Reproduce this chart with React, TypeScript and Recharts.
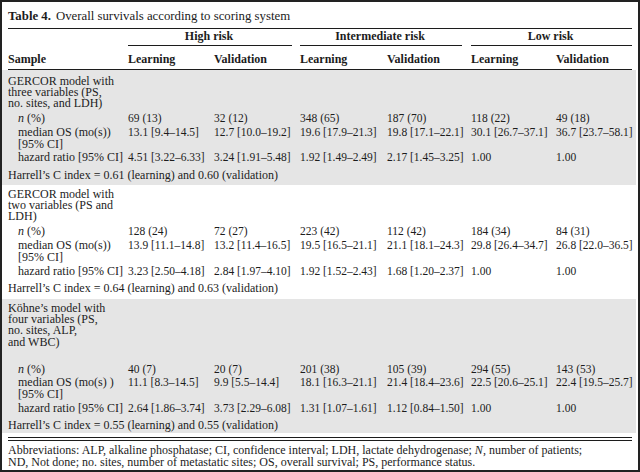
import { Surface, Layer } from "recharts";

const riskGroups = ["High risk", "Intermediate risk", "Low risk"];
const sampleTypes = ["Learning", "Validation"];

const model1Label = ["GERCOR model with", "three variables (PS,", "no. sites, and LDH)"];
const model1N = ["69 (13)", "32 (12)", "348 (65)", "187 (70)", "118 (22)", "49 (18)"];
const model1Os = ["13.1 [9.4–14.5]", "12.7 [10.0–19.2]", "19.6 [17.9–21.3]", "19.8 [17.1–22.1]", "30.1 [26.7–37.1]", "36.7 [23.7–58.1]"];
const model1Hr = ["4.51 [3.22–6.33]", "3.24 [1.91–5.48]", "1.92 [1.49–2.49]", "2.17 [1.45–3.25]", "1.00", "1.00"];
const model1C = "Harrell’s C index = 0.61 (learning) and 0.60 (validation)";

const model2Label = ["GERCOR model with", "two variables (PS and", "LDH)"];
const model2N = ["128 (24)", "72 (27)", "223 (42)", "112 (42)", "184 (34)", "84 (31)"];
const model2Os = ["13.9 [11.1–14.8]", "13.2 [11.4–16.5]", "19.5 [16.5–21.1]", "21.1 [18.1–24.3]", "29.8 [26.4–34.7]", "26.8 [22.0–36.5]"];
const model2Hr = ["3.23 [2.50–4.18]", "2.84 [1.97–4.10]", "1.92 [1.52–2.43]", "1.68 [1.20–2.37]", "1.00", "1.00"];
const model2C = "Harrell’s C index = 0.64 (learning) and 0.63 (validation)";

const model3Label = ["Köhne’s model with", "four variables (PS,", "no. sites, ALP,", "and WBC)"];
const model3N = ["40 (7)", "20 (7)", "201 (38)", "105 (39)", "294 (55)", "143 (53)"];
const model3Os = ["11.1 [8.3–14.5]", "9.9 [5.5–14.4]", "18.1 [16.3–21.1]", "21.4 [18.4–23.6]", "22.5 [20.6–25.1]", "22.4 [19.5–25.7]"];
const model3Hr = ["2.64 [1.86–3.74]", "3.73 [2.29–6.08]", "1.31 [1.07–1.61]", "1.12 [0.84–1.50]", "1.00", "1.00"];
const model3C = "Harrell’s C index = 0.55 (learning) and 0.55 (validation)";

const osLabel = ["median OS (mo(s))", "[95% CI]"];
const osLabel3 = ["median OS (mo(s) )", "[95% CI]"];
const hrLabel = "hazard ratio [95% CI]";

const W = 640;
const H = 472;
const FONT = "'Liberation Serif', 'Times New Roman', serif";
const INK = "#1c1c1c";
const GRAY = "#e5e5e5";
const CELL_FONT = 11.5;
const colX = [128, 214, 300, 387, 471, 556];
const groupSpan = [
  [128, 292],
  [300, 462],
  [471, 632],
];

interface BlockProps {
  top: number;
  bottom: number;
  shaded: boolean;
  label: string[];
  labelY: number;
  nRow: string[];
  osRow: string[];
  osText: string[];
  hrRow: string[];
  cText: string;
  nY: number;
  osY: number;
  hrY: number;
  cY: number;
}

function Block(p: BlockProps) {
  return (
    <Layer>
      {p.shaded && <rect x={2} y={p.top} width={634} height={p.bottom - p.top} fill={GRAY} />}
      {p.label.map((l, i) => (
        <text key={l} x={8} y={p.labelY + i * 11.2}>{l}</text>
      ))}
      <text x={18} y={p.nY}>
        <tspan fontStyle="italic">n</tspan> (%)
      </text>
      <text x={18} y={p.osY}>{p.osText[0]}</text>
      <text x={18} y={p.osY + 11.5}>{p.osText[1]}</text>
      <text x={18} y={p.hrY}>{hrLabel}</text>
      <text x={8} y={p.cY}>{p.cText}</text>
      <Layer fontSize={CELL_FONT}>
        {p.nRow.map((v, i) => (
          <text key={"n" + i} x={colX[i]} y={p.nY}>{v}</text>
        ))}
        {p.osRow.map((v, i) => (
          <text key={"o" + i} x={colX[i]} y={p.osY}>{v}</text>
        ))}
        {p.hrRow.map((v, i) => (
          <text key={"h" + i} x={colX[i]} y={p.hrY}>{v}</text>
        ))}
      </Layer>
    </Layer>
  );
}

export default function App() {
  return (
    <div style={{ position: "absolute", left: 0, top: 0, width: W, height: H, background: "#fff" }}>
      <Surface width={W} height={H} viewBox={{ x: 0, y: 0, width: W, height: H }}>
        <Layer fontFamily={FONT} fontSize={12} fill={INK}>
          <rect x={0} y={0} width={W} height={H} fill="#fff" />
          <text x={8} y={20} fontSize={12.8}>
            <tspan fontWeight="bold">Table 4.</tspan>
            <tspan dx={5}>Overall survivals according to scoring system</tspan>
          </text>
          <line x1={8} x2={632} y1={28.5} y2={28.5} stroke={INK} strokeWidth={1} />

          {riskGroups.map((g, i) => (
            <Layer key={g}>
              <text x={(groupSpan[i][0] + groupSpan[i][1]) / 2 - 1} y={40} textAnchor="middle" fontWeight="bold">
                {g}
              </text>
              <line x1={groupSpan[i][0]} x2={groupSpan[i][1]} y1={45.5} y2={45.5} stroke={INK} strokeWidth={1} />
            </Layer>
          ))}

          <text x={8} y={63} fontWeight="bold">Sample</text>
          {colX.map((x, i) => (
            <text key={"h" + i} x={x} y={63} fontWeight="bold">{sampleTypes[i % 2]}</text>
          ))}
          <line x1={8} x2={632} y1={69.5} y2={69.5} stroke={INK} strokeWidth={1} />

          <Block top={70} bottom={185} shaded label={model1Label} labelY={85} nRow={model1N}
            osRow={model1Os} osText={osLabel} hrRow={model1Hr} cText={model1C}
            nY={122} osY={136} hrY={161} cY={179} />
          <Block top={185} bottom={299} shaded={false} label={model2Label} labelY={198} nRow={model2N}
            osRow={model2Os} osText={osLabel} hrRow={model2Hr} cText={model2C}
            nY={235} osY={249} hrY={275} cY={292} />
          <Block top={299} bottom={433} shaded label={model3Label} labelY={312} nRow={model3N}
            osRow={model3Os} osText={osLabel3} hrRow={model3Hr} cText={model3C}
            nY={373} osY={386} hrY={412} cY={429} />

          <line x1={8} x2={632} y1={437.5} y2={437.5} stroke={INK} strokeWidth={1} />
          <line x1={8} x2={632} y1={440.5} y2={440.5} stroke={INK} strokeWidth={1} />
          <text x={8} y={454}>
            Abbreviations: ALP, alkaline phosphatase; CI, confidence interval; LDH, lactate dehydrogenase;{" "}
            <tspan fontStyle="italic">N</tspan>, number of patients;
          </text>
          <text x={8} y={466}>
            ND, Not done; no. sites, number of metastatic sites; OS, overall survival; PS, performance status.
          </text>
          <rect x={1} y={1} width={W - 2} height={H - 2} fill="none" stroke="#222" strokeWidth={2} />
        </Layer>
      </Surface>
    </div>
  );
}
